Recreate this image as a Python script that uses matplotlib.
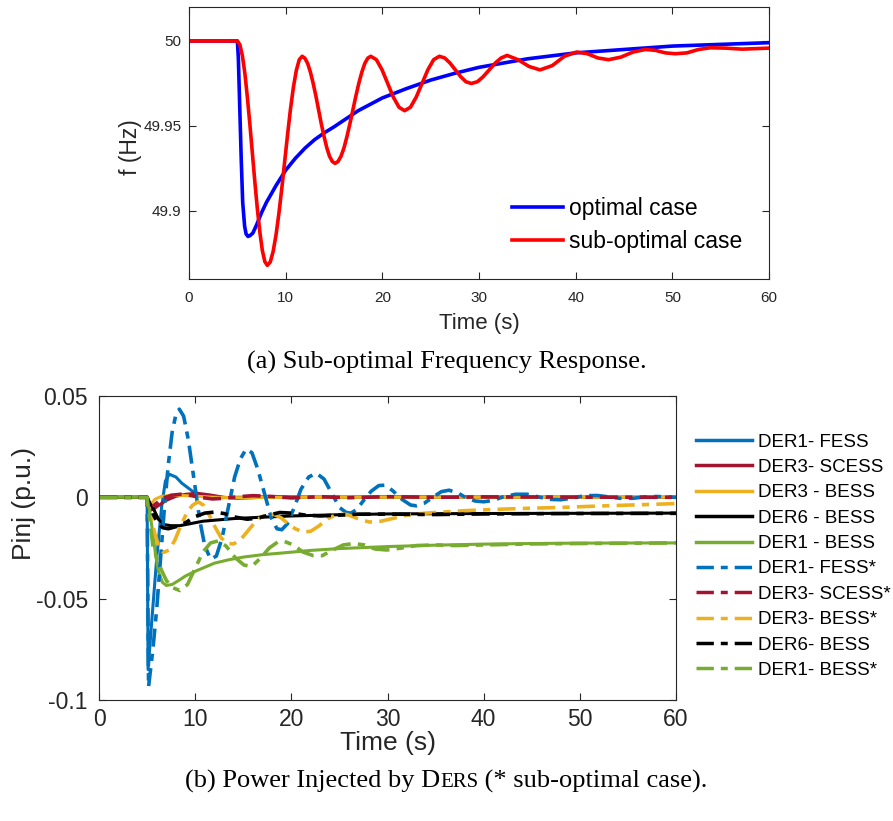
import matplotlib
matplotlib.use("Agg")
import matplotlib.pyplot as plt

# ---- (a) frequency response ----
t_opt = [0, 5.0, 5.1, 5.25, 5.4, 5.55, 5.75, 5.9, 6.1, 6.3, 6.6, 7.0, 7.5, 8.0, 9.0,
         10.0, 11.0, 12.0, 13.0, 14.0, 15.0, 17.5, 20.0, 22.5, 25.0, 27.5, 30.0, 35.0,
         40.0, 45.0, 50.0, 55.0, 60.0]
f_opt = [50, 50, 49.99, 49.96, 49.93, 49.905, 49.891, 49.8865, 49.885, 49.8855, 49.887,
         49.892, 49.899, 49.905, 49.915, 49.924, 49.931, 49.937, 49.942, 49.946, 49.9495,
         49.959, 49.9665, 49.972, 49.977, 49.981, 49.9845, 49.9895, 49.993, 49.995,
         49.997, 49.998, 49.999]

t_sub = [0, 5.0, 5.26, 5.52, 5.78, 6.03, 6.29, 6.55, 6.81, 7.07, 7.33, 7.58, 7.84, 8.1,
         8.4, 8.7, 9.0, 9.3, 9.6, 9.9, 10.2, 10.5, 10.8, 11.1, 11.4, 11.7,
         11.98, 12.27, 12.55, 12.83, 13.12, 13.4, 13.68, 13.97, 14.25, 14.53, 14.82, 15.1,
         15.41, 15.72, 16.03, 16.33, 16.64, 16.95, 17.26, 17.57, 17.88, 18.18, 18.49, 18.8,
         19.38, 19.97, 20.55, 21.13, 21.72, 22.3, 22.9, 23.5, 24.1, 24.7, 25.3, 25.9,
         26.45, 27.0, 27.55, 28.1, 28.65, 29.2, 29.82, 30.43, 31.05, 31.67, 32.28, 32.9,
         34.03, 35.17, 36.3, 37.57, 38.83, 40.1, 41.2, 42.3, 43.4, 44.67, 45.93, 47.2,
         48.23, 49.27, 50.3, 51.5, 52.7, 53.9, 55.5, 57.2, 60.0]
f_sub = [50, 50, 49.9978, 49.9912, 49.9807, 49.967, 49.9511, 49.934, 49.9169, 49.901,
         49.8873, 49.8768, 49.8702, 49.868,
         49.870, 49.8762, 49.886, 49.8988, 49.9136, 49.9295, 49.9454, 49.9603, 49.973,
         49.9828, 49.989, 49.991,
         49.9899, 49.9868, 49.9818, 49.9753, 49.9677, 49.9595, 49.9513, 49.9437, 49.9372,
         49.9322, 49.9291, 49.928,
         49.9291, 49.9322, 49.9372, 49.9437, 49.9513, 49.9595, 49.9677, 49.9753, 49.9818,
         49.9868, 49.9899, 49.991,
         49.989, 49.983, 49.975, 49.967, 49.961, 49.959, 49.961, 49.967, 49.975, 49.983,
         49.989, 49.991,
         49.990, 49.987, 49.983, 49.979, 49.976, 49.975, 49.976, 49.979, 49.983, 49.987,
         49.990, 49.9915,
         49.989, 49.985, 49.983, 49.9855, 49.991, 49.9935, 49.9925, 49.990, 49.989,
         49.9905, 49.9935, 49.995, 49.9945, 49.993, 49.9925, 49.993, 49.995, 49.996,
         49.9958, 49.9952, 49.9958]

# ---- (b) power injected ----
t_fess = [0, 5.0, 5.1, 5.5, 6.0, 6.5, 6.9, 7.3, 8.0, 8.6, 9.3, 10.0, 11.0, 12.0, 14.0,
          18.0, 25.0, 60]
p_fess = [0, 0, -0.085, -0.06, -0.03, -0.005, 0.008, 0.0114, 0.010, 0.007, 0.0045,
          0.002, 0.0005, -0.0003, 0.0, 0.0002, 0.0, 0.0]

t_scess = [0, 5.0, 5.2, 5.6, 6.2, 7.0, 8.0, 9.0, 10.2, 11.5, 13.0, 14.3, 16.0, 18.0,
           22.0, 30.0, 40.0, 60]
p_scess = [0, 0, -0.0065, -0.006, -0.004, -0.0015, 0.0005, 0.0015, 0.002, 0.0012, 0.0,
           -0.0005, -0.0002, 0.0003, 0.0, 0.0002, 0.0001, 0.0]

t_bess3 = [0, 5.0, 5.3, 5.8, 6.5, 7.5, 9.0, 10.5, 12.0, 15.0, 20.0, 60]
p_bess3 = [0, 0, -0.004, -0.001, 0.0005, 0.001, 0.0008, 0.0004, 0.0, -0.0002, 0.0, 0.0]

t_bess6 = [0, 5.0, 5.3, 5.7, 6.2, 6.8, 7.5, 8.4, 9.5, 10.8, 12.0, 14.0, 17.0, 20.0,
           25.0, 30.0, 40.0, 50.0, 60.0]
p_bess6 = [0, 0, -0.003, -0.006, -0.011, -0.0135, -0.014, -0.014, -0.013, -0.0118,
           -0.0113, -0.0105, -0.0098, -0.0092, -0.0086, -0.0082, -0.008, -0.0079, -0.0078]

t_bess1 = [0, 5.0, 5.3, 5.6, 5.9, 6.2, 6.6, 7.0, 7.6, 8.3, 9.0, 10.0, 11.0, 12.0, 13.5,
           15.0, 17.0, 19.0, 22.0, 25.0, 30.0, 35.0, 40.0, 45.0, 50.0, 60.0]
p_bess1 = [0, 0, -0.008, -0.018, -0.029, -0.037, -0.042, -0.0435, -0.043, -0.041,
           -0.0388, -0.0365, -0.0345, -0.0325, -0.0308, -0.0295, -0.0283, -0.0275,
           -0.0262, -0.0253, -0.0243, -0.0236, -0.0231, -0.0228, -0.0226, -0.0225]

t_fess_s = [0, 5.0, 5.15, 5.6, 6.0, 6.4, 6.8, 7.2, 7.6, 8.0, 8.35, 8.8, 9.3, 9.9, 10.5,
            11.0, 11.6, 12.2, 12.8, 13.4, 14.1, 14.7, 15.3, 15.9, 16.5, 17.2, 17.9, 18.5,
            19.0, 19.6, 20.3, 21.0, 21.8, 22.6, 23.4, 24.2, 25.0, 25.7, 26.2, 26.8, 27.6,
            28.3, 29.1, 29.8, 30.6, 31.5, 32.4, 33.0, 33.8, 34.7, 35.6, 36.4, 37.3, 38.2,
            39.1, 40.0, 41.0, 42.0, 43.3, 44.5, 45.6, 46.8, 48.0, 49.2, 50.5, 51.8, 53.0,
            54.2, 55.5, 56.8, 58.0, 60]
p_fess_s = [0, 0, -0.0935, -0.075, -0.055, -0.03, -0.005, 0.016, 0.032, 0.041, 0.0435,
            0.040, 0.028, 0.008, -0.012, -0.024, -0.0305, -0.029, -0.020, -0.006, 0.010,
            0.019, 0.0238, 0.022, 0.014, 0.002, -0.010, -0.0155, -0.016, -0.013, -0.005,
            0.004, 0.010, 0.0119, 0.009, 0.002, -0.005, -0.0075, -0.0078, -0.006, -0.001,
            0.003, 0.0058, 0.006, 0.003, -0.001, -0.0038, -0.0042, -0.003, 0.0, 0.0028,
            0.0035, 0.0022, -0.0003, -0.0018, -0.0022, -0.0015, 0.0002, 0.0015, 0.0015,
            0.0003, -0.0010, -0.0012, -0.0004, 0.0008, 0.0009, 0.0002, -0.0005, -0.0005,
            0.0002, 0.0004, 0.0]

t_scess_s = [0, 5.0, 5.2, 5.7, 6.5, 7.5, 8.5, 9.5, 10.5, 11.8, 13.0, 14.5, 16.0, 18.0,
             20.0, 23.0, 26.0, 30.0, 35.0, 40.0, 50.0, 60]
p_scess_s = [0, 0, -0.006, -0.004, -0.001, 0.001, 0.0015, 0.001, 0.0, -0.0008, -0.0005,
             0.0003, 0.0008, 0.0004, -0.0003, 0.0003, -0.0002, 0.0003, 0.0, 0.0002,
             0.0001, 0.0]

t_bess3_s = [0, 5.0, 5.4, 5.8, 6.2, 6.7, 7.3, 7.9, 8.5, 9.1, 9.7, 10.3, 10.9, 11.5, 12.1,
             12.7, 13.3, 14.0, 14.7, 15.4, 16.1, 16.8, 17.5, 18.2, 18.9, 19.6, 20.4, 21.2,
             22.0, 22.9, 23.8, 24.8, 25.8, 26.9, 28.1, 29.3, 30.5, 32.0, 34.0, 36.0, 38.0,
             41.0, 44.0, 48.0, 52.0, 56.0, 60.0]
p_bess3_s = [0, 0, -0.010, -0.018, -0.024, -0.0272, -0.026, -0.021, -0.014, -0.008,
             -0.004, -0.0022, -0.004, -0.009, -0.015, -0.020, -0.0228, -0.023, -0.021,
             -0.017, -0.013, -0.0098, -0.0085, -0.0085, -0.010, -0.0128, -0.0155, -0.0171,
             -0.0168, -0.014, -0.0105, -0.0083, -0.0085, -0.0105, -0.0122, -0.0118,
             -0.0105, -0.0088, -0.0078, -0.0072, -0.0066, -0.006, -0.0055, -0.005,
             -0.0043, -0.0037, -0.0031]

t_bess6_s = [0, 5.0, 5.3, 5.6, 6.0, 6.6, 7.2, 8.0, 9.0, 10.0, 11.0, 12.0, 13.0, 14.2,
             15.4, 16.5, 17.6, 18.8, 20.0, 21.5, 23.0, 25.0, 27.0, 30.0, 35.0, 40.0, 50.0,
             60.0]
p_bess6_s = [0, 0, -0.004, -0.008, -0.012, -0.015, -0.0155, -0.0145, -0.0125, -0.0095,
             -0.0078, -0.0073, -0.008, -0.0098, -0.0108, -0.0103, -0.0088, -0.0075,
             -0.0078, -0.0088, -0.0092, -0.0088, -0.0083, -0.0083, -0.0085, -0.0082,
             -0.008, -0.0079]

t_bess1_s = [0, 5.0, 5.3, 5.6, 6.0, 6.5, 7.0, 7.6, 8.4, 9.2, 10.0, 10.8, 11.6, 12.4,
             13.2, 14.2, 15.1, 15.9, 16.8, 17.7, 18.6, 19.3, 20.2, 21.2, 22.3, 23.2, 24.3,
             25.4, 26.5, 27.6, 28.7, 29.9, 31.5, 33.0, 35.0, 37.0, 40.0, 45.0, 50.0, 60.0]
p_bess1_s = [0, 0, -0.012, -0.024, -0.030, -0.036, -0.041, -0.0445, -0.046, -0.043,
             -0.035, -0.027, -0.0225, -0.0215, -0.024, -0.030, -0.0335, -0.034, -0.030,
             -0.025, -0.022, -0.0218, -0.0235, -0.027, -0.0288, -0.0288, -0.026, -0.0235,
             -0.0228, -0.0235, -0.0255, -0.026, -0.025, -0.0238, -0.0235, -0.0238,
             -0.0235, -0.023, -0.0228, -0.0225]

labels_b = ["DER1- FESS", "DER3- SCESS", "DER3 - BESS", "DER6 - BESS", "DER1 - BESS",
            "DER1- FESS*", "DER3- SCESS*", "DER3- BESS*", "DER6- BESS", "DER1- BESS*"]

SANS = "Liberation Sans"
SERIF = "Liberation Serif"
DARK = "#262626"
EDGE = "#262626"

c_blue = "#0072BD"
c_red = "#A2142F"
c_yel = "#EDB120"
c_blk = "#000000"
c_grn = "#77AC30"
dashdot = (0, (5, 2, 2, 2))

fig = plt.figure(figsize=(8.93, 8.21), dpi=100)


def style_axes(ax, tick_size, xpad, ypad):
    for s in ax.spines.values():
        s.set_color(EDGE)
        s.set_linewidth(0.8)
    ax.tick_params(direction="in", top=True, right=True, length=5, width=0.8,
                   colors=EDGE, labelsize=tick_size, labelcolor=DARK)
    ax.tick_params(axis="x", pad=xpad)
    ax.tick_params(axis="y", pad=ypad)
    for lab in ax.get_xticklabels() + ax.get_yticklabels():
        lab.set_fontfamily(SANS)


# top panel
ax1 = fig.add_axes([0.2117, 0.6602, 0.6495, 0.3313])
ax1.plot(t_opt, f_opt, color="#0000FF", lw=2.6, label="optimal case")
ax1.plot(t_sub, f_sub, color="#FF0000", lw=2.6, label="sub-optimal case")
ax1.set_xlim(0, 60)
ax1.set_ylim(49.86, 50.02)
ax1.set_xticks([0, 10, 20, 30, 40, 50, 60])
ax1.set_yticks([49.9, 49.95, 50])
ax1.set_yticklabels(["49.9", "49.95", "50"])
style_axes(ax1, 11, 8.5, 5.5)
ax1.set_xlabel("Time (s)", fontsize=16, family=SANS, color=DARK, labelpad=6)
ax1.set_ylabel("f (Hz)", fontsize=16.5, family=SANS, color=DARK)
ax1.yaxis.set_label_coords(-0.081, 0.485)
ax1.legend(loc="lower right", frameon=False, prop={"family": SANS, "size": 16.5},
           handlelength=2.2, handletextpad=0.3, labelspacing=0.42,
           bbox_to_anchor=(0.99, 0.02))

# bottom panel
ax2 = fig.add_axes([0.1109, 0.1474, 0.6461, 0.3703])
ax2.plot(t_fess, p_fess, color=c_blue, lw=2.2)
ax2.plot(t_scess, p_scess, color=c_red, lw=2.2)
ax2.plot(t_bess3, p_bess3, color=c_yel, lw=2.2)
ax2.plot(t_bess6, p_bess6, color=c_blk, lw=2.2)
ax2.plot(t_bess1, p_bess1, color=c_grn, lw=2.2)
ax2.plot(t_fess_s, p_fess_s, color=c_blue, lw=2.6, ls=dashdot)
ax2.plot(t_scess_s, p_scess_s, color=c_red, lw=2.6, ls=dashdot)
ax2.plot(t_bess3_s, p_bess3_s, color=c_yel, lw=2.6, ls=dashdot)
ax2.plot(t_bess6_s, p_bess6_s, color=c_blk, lw=2.6, ls=dashdot)
ax2.plot(t_bess1_s, p_bess1_s, color=c_grn, lw=2.6, ls=dashdot)
ax2.set_xlim(0, 60)
ax2.set_ylim(-0.1, 0.05)
ax2.set_xticks([0, 10, 20, 30, 40, 50, 60])
ax2.set_yticks([-0.1, -0.05, 0, 0.05])
ax2.set_yticklabels(["-0.1", "-0.05", "0", "0.05"])
style_axes(ax2, 16.5, 6, 8)
ax2.set_xlabel("Time (s)", fontsize=19, family=SANS, color=DARK, labelpad=0)
ax2.set_ylabel("Pinj (p.u.)", fontsize=19, family=SANS, color=DARK)
ax2.yaxis.set_label_coords(-0.11, 0.645)

handles = ax2.get_lines()
leg = fig.legend(handles, labels_b, loc="upper left", frameon=False,
                 bbox_to_anchor=(0.779, 0.472), prop={"family": SANS, "size": 13.5},
                 handlelength=3.0, handletextpad=0.3, labelspacing=0.44,
                 borderaxespad=0, borderpad=0)
for h in leg.legend_handles:
    h.set_linewidth(2.5)

# captions (small-caps DERs done in pieces)
fig.text(0.5, 0.559, "(a) Sub-optimal Frequency Response.", ha="center", va="center",
         family=SERIF, fontsize=19, color="black")


def caption_pieces(y, pieces):
    fig.canvas.draw()
    r = fig.canvas.get_renderer()
    objs = []
    for s, size in pieces:
        objs.append(fig.text(0, y, s, ha="left", va="baseline", family=SERIF,
                             fontsize=size, color="black"))
    widths = [o.get_window_extent(r).width for o in objs]
    W = fig.bbox.width
    x = (W - sum(widths)) / 2
    for o, w in zip(objs, widths):
        o.set_x(x / W)
        x += w


caption_pieces(0.041, [("(b) Power Injected by D", 19), ("ERS", 15),
                       (" (* sub-optimal case).", 19)])

fig.savefig("out.png", dpi=100)
